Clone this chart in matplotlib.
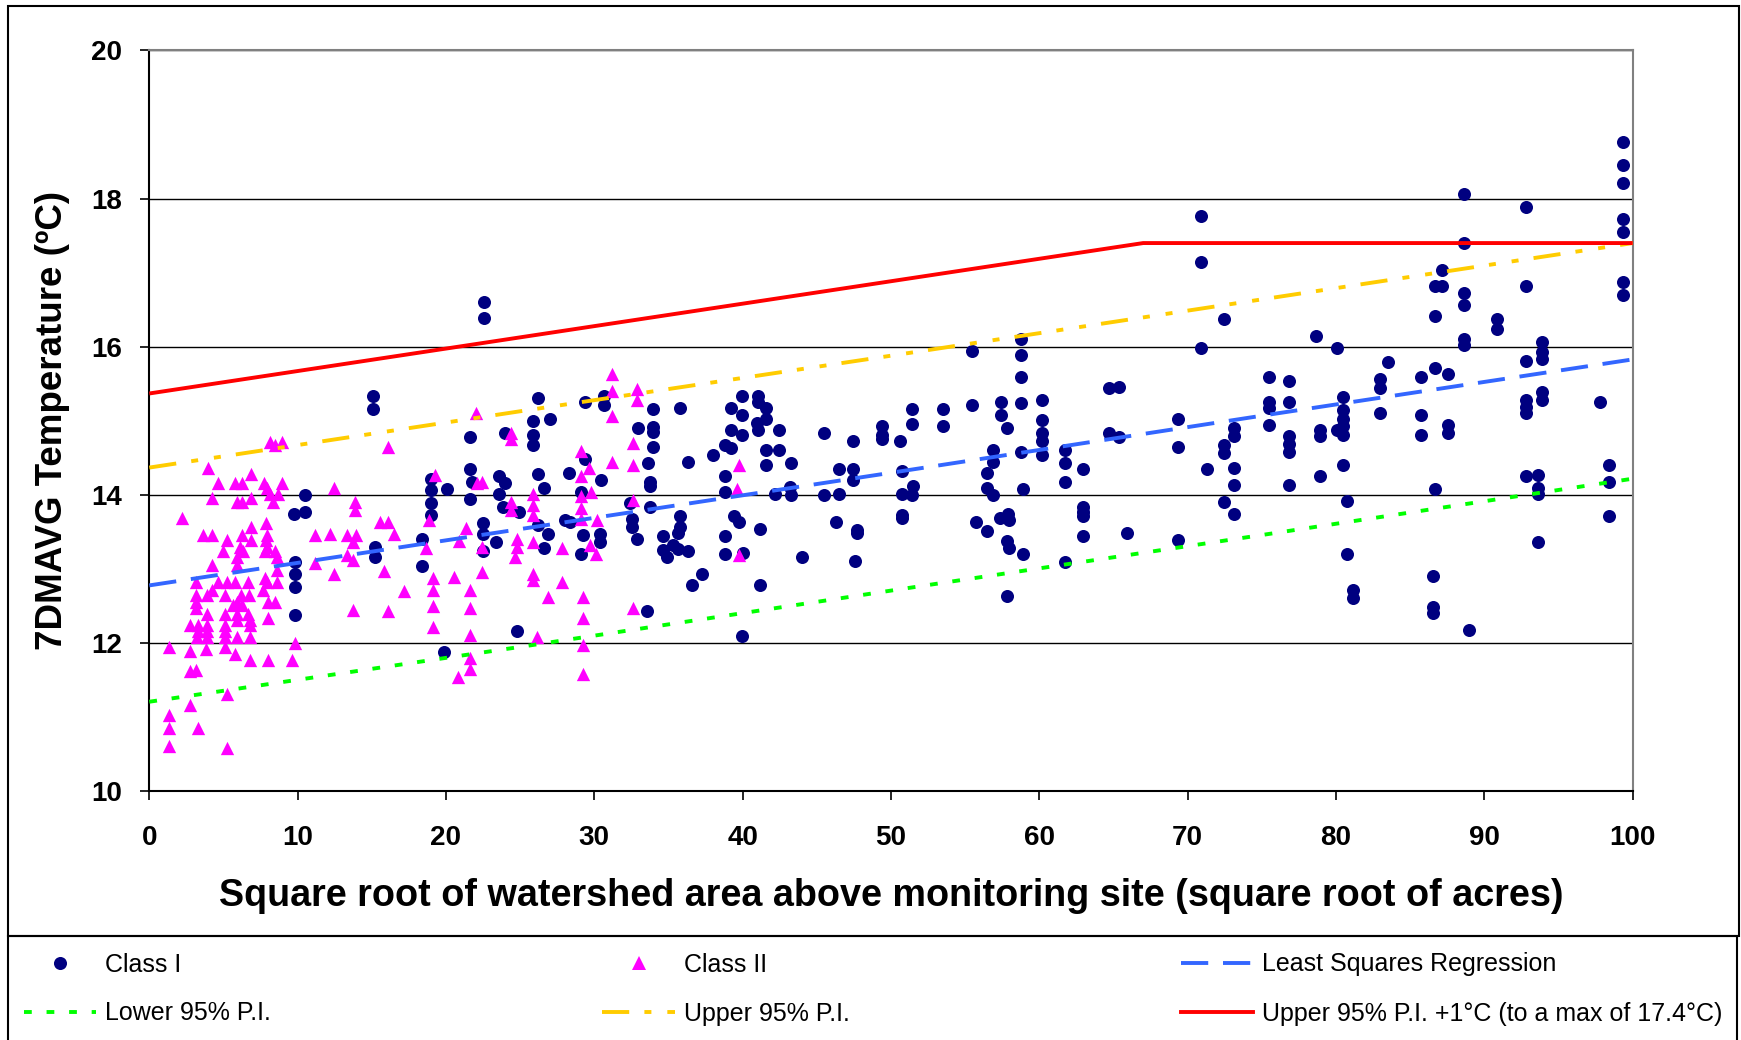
import numpy as np
import matplotlib
matplotlib.use('Agg')
import matplotlib.pyplot as plt
from matplotlib.lines import Line2D
from matplotlib.patches import Rectangle

plt.rcParams['font.family'] = ['Liberation Sans', 'DejaVu Sans']

# Class I sites: (sqrt acres, 7DMAVG degC)
class1 = np.array([
    (22.56, 16.60), (22.56, 16.39), (15.08, 15.34), (15.08, 15.16), (21.62, 14.78),
    (23.98, 14.83), (26.22, 15.31), (25.84, 15.00), (27.01, 15.03), (25.84, 14.81),
    (25.84, 14.67), (29.37, 15.26), (30.65, 15.34), (30.65, 15.21), (32.97, 14.90),
    (10.50, 14.00), (9.78, 13.75), (10.50, 13.77), (9.82, 13.10), (9.82, 12.93),
    (9.82, 12.76), (9.82, 12.38), (15.21, 13.30), (15.21, 13.16), (18.36, 13.40),
    (18.36, 13.04), (18.99, 14.22), (18.99, 14.07), (18.99, 13.89), (18.99, 13.73),
    (20.05, 14.08), (19.89, 11.88), (21.62, 14.35), (21.62, 13.95), (21.73, 14.18),
    (22.52, 13.62), (22.52, 13.48), (22.52, 13.24), (23.37, 13.37), (23.60, 14.26),
    (23.98, 14.16), (23.60, 14.02), (23.87, 13.84), (24.95, 13.77), (24.77, 12.16),
    (26.22, 14.28), (26.61, 14.10), (26.22, 13.60), (26.90, 13.47), (26.63, 13.29),
    (28.32, 14.30), (29.37, 14.48), (30.43, 14.20), (28.02, 13.66), (28.36, 13.64),
    (29.10, 14.04), (29.21, 13.46), (29.10, 13.21), (30.38, 13.48), (30.38, 13.37),
    (32.40, 13.89), (32.52, 13.68), (32.52, 13.57), (32.85, 13.40),
    (33.93, 15.16), (35.78, 15.18), (33.93, 14.92), (33.93, 14.85), (33.93, 14.65),
    (39.19, 15.18), (39.98, 15.33), (41.01, 15.33), (41.01, 15.25), (41.57, 15.18),
    (39.98, 15.08), (41.57, 15.03), (40.95, 14.97), (39.19, 14.88), (41.01, 14.88),
    (39.98, 14.81), (42.47, 14.88), (38.81, 14.67), (39.19, 14.63), (38.02, 14.54),
    (41.57, 14.61), (42.47, 14.61), (45.49, 14.83), (47.46, 14.73), (49.42, 14.93),
    (49.42, 14.81), (49.42, 14.75), (50.61, 14.73), (51.39, 15.16), (51.39, 14.96),
    (53.48, 15.16), (53.48, 14.93), (55.44, 15.94), (55.44, 15.21), (57.42, 15.26),
    (57.42, 15.08), (57.80, 14.90), (56.90, 14.61), (58.74, 16.11), (58.74, 15.89),
    (58.74, 15.59), (58.74, 15.24), (58.74, 14.58), (60.16, 15.28), (60.16, 15.01),
    (60.16, 14.83), (60.16, 14.73), (61.73, 14.61), (64.72, 15.44), (65.40, 15.46),
    (64.72, 14.83), (65.40, 14.78),
    (33.64, 14.43), (33.75, 14.18), (33.75, 14.12), (33.75, 13.84), (36.29, 14.45),
    (38.81, 14.25), (38.81, 14.04), (35.78, 13.72), (35.78, 13.57), (35.66, 13.49),
    (34.61, 13.44), (34.61, 13.26), (34.88, 13.17), (35.33, 13.33), (35.66, 13.27),
    (36.29, 13.24), (37.24, 12.93), (36.56, 12.78), (33.57, 12.43), (39.44, 13.71),
    (39.75, 13.64), (38.81, 13.45), (38.81, 13.21), (40.00, 13.22), (41.17, 13.54),
    (41.17, 12.78), (39.98, 12.10), (41.57, 14.40), (43.26, 14.43), (42.18, 14.02),
    (43.19, 14.11), (43.26, 14.00), (44.02, 13.17), (45.49, 14.00), (46.52, 14.02),
    (46.52, 14.35), (47.46, 14.35), (47.46, 14.20), (46.27, 13.63), (47.69, 13.53),
    (47.69, 13.49), (47.57, 13.11), (50.72, 14.33), (50.72, 14.02), (51.39, 14.00),
    (51.51, 14.12), (50.72, 13.73), (50.72, 13.69), (55.71, 13.64), (56.50, 13.52),
    (56.50, 14.30), (56.50, 14.10), (56.90, 14.00), (56.90, 14.45), (57.35, 13.69),
    (57.91, 13.75), (57.96, 13.66), (57.80, 13.38), (57.96, 13.29), (58.88, 13.21),
    (57.80, 12.64), (58.88, 14.08), (60.16, 14.54), (61.73, 14.43), (61.73, 14.17),
    (61.73, 13.09), (62.92, 14.35), (62.92, 13.84), (62.92, 13.77), (62.92, 13.72),
    (62.92, 13.44), (65.93, 13.49),
    (70.90, 17.76), (70.90, 17.15), (70.90, 15.99), (72.48, 16.37), (69.33, 15.03),
    (69.33, 14.65), (73.15, 14.90), (73.15, 14.79), (72.48, 14.67), (72.48, 14.57),
    (75.51, 15.59), (75.51, 15.26), (75.51, 15.18), (75.51, 14.94), (76.81, 15.54),
    (76.81, 15.26), (76.81, 14.79), (76.81, 14.69), (76.81, 14.58), (78.66, 16.14),
    (78.92, 14.88), (78.92, 14.80), (80.09, 15.99), (80.50, 15.32), (80.50, 15.15),
    (80.50, 15.03), (80.50, 14.93), (80.05, 14.88), (80.50, 14.81), (82.97, 15.56),
    (82.97, 15.44), (82.97, 15.10), (83.49, 15.79), (85.73, 15.59), (85.73, 15.08),
    (85.73, 14.81), (86.68, 15.71), (87.58, 15.63), (87.58, 14.94), (87.58, 14.83),
    (86.68, 16.82), (87.17, 16.82), (87.17, 17.03), (86.68, 16.41), (88.63, 18.06),
    (88.63, 17.40), (88.63, 16.72), (88.63, 16.57), (88.63, 16.10), (88.63, 16.03),
    (90.83, 16.37), (90.83, 16.24), (92.81, 17.88), (92.81, 16.82), (92.81, 15.81),
    (92.81, 15.28), (92.81, 15.19), (92.81, 15.10), (93.87, 16.07), (93.87, 15.93),
    (93.87, 15.83), (93.87, 15.39), (93.87, 15.28), (97.80, 15.26), (99.37, 18.76),
    (99.37, 18.46), (99.37, 18.21), (99.37, 17.73), (99.37, 17.55), (99.37, 16.87),
    (99.37, 16.70),
    (69.33, 13.39), (73.15, 14.37), (73.15, 14.13), (72.48, 13.90), (73.15, 13.74),
    (71.28, 14.35), (76.81, 14.13), (78.92, 14.25), (80.50, 14.40), (80.77, 13.92),
    (80.77, 13.21), (81.13, 12.72), (81.13, 12.61), (86.68, 14.08), (86.52, 12.91),
    (86.52, 12.49), (86.52, 12.41), (88.99, 12.18), (92.81, 14.25), (93.60, 14.27),
    (93.60, 14.10), (93.60, 14.02), (93.60, 13.37), (98.43, 14.40), (98.43, 14.17),
    (98.43, 13.72),
])

# Class II sites
class2 = np.array([
    (3.93, 14.37), (6.83, 14.29), (4.61, 14.16), (5.78, 14.16), (6.23, 14.16),
    (7.73, 14.16), (8.92, 14.16), (7.91, 14.09), (8.14, 14.02), (8.70, 14.02),
    (4.20, 13.96), (6.86, 13.96), (5.89, 13.91), (6.23, 13.91), (8.36, 13.91),
    (2.23, 13.69), (7.87, 13.62), (6.86, 13.57), (3.64, 13.46), (4.20, 13.46),
    (6.23, 13.46), (7.91, 13.46), (5.26, 13.39), (6.86, 13.39), (7.87, 13.39),
    (6.11, 13.30), (7.91, 13.30), (4.99, 13.24), (6.34, 13.24), (7.80, 13.24),
    (8.47, 13.24), (5.89, 13.17), (8.59, 13.17), (4.20, 13.06), (5.89, 13.06),
    (8.59, 12.99), (7.80, 12.88), (3.15, 12.83), (4.65, 12.83), (5.22, 12.83),
    (5.78, 12.83), (6.68, 12.83), (7.91, 12.83), (8.59, 12.83), (4.20, 12.72),
    (7.69, 12.72), (3.15, 12.65), (3.87, 12.65), (5.10, 12.65), (6.18, 12.65),
    (6.74, 12.65), (3.15, 12.56), (5.89, 12.56), (8.02, 12.56), (8.47, 12.56),
    (5.66, 12.52), (6.23, 12.52), (3.15, 12.47), (3.87, 12.40), (5.10, 12.40),
    (5.89, 12.40), (6.68, 12.40), (8.02, 12.34), (5.89, 12.31), (6.79, 12.31),
    (2.74, 12.25), (3.31, 12.25), (3.87, 12.25), (5.10, 12.25), (6.79, 12.25),
    (3.31, 12.16), (3.87, 12.16), (5.10, 12.16), (3.19, 12.09), (3.87, 12.09),
    (5.10, 12.09), (5.89, 12.09), (6.79, 12.09), (9.82, 12.00), (1.33, 11.95),
    (5.10, 11.95), (3.80, 11.92), (2.74, 11.89), (5.78, 11.86), (6.79, 11.77),
    (8.02, 11.77), (9.60, 11.77), (2.74, 11.62), (3.15, 11.64), (2.74, 11.17),
    (1.33, 11.03), (1.33, 10.86), (3.26, 10.86), (5.26, 11.32), (1.33, 10.61),
    (5.26, 10.59),
    (12.45, 14.09), (13.87, 13.91), (13.87, 13.80), (11.17, 13.46), (12.18, 13.48),
    (13.35, 13.46), (13.93, 13.46), (13.76, 13.37), (11.17, 13.08), (12.45, 12.93),
    (13.35, 13.19), (13.76, 13.12), (13.76, 12.45), (15.55, 13.63), (16.11, 13.63),
    (16.50, 13.48), (15.84, 12.98), (16.11, 12.43), (17.17, 12.70), (19.26, 14.27),
    (18.88, 13.66), (18.63, 13.28), (19.15, 12.88), (19.15, 12.72), (19.15, 12.50),
    (19.15, 12.22), (20.56, 12.90), (20.83, 11.55), (21.62, 12.72), (21.62, 12.47),
    (21.62, 12.11), (21.62, 11.80), (21.62, 11.65), (21.35, 13.56), (20.88, 13.38),
    (22.07, 14.16), (22.41, 14.18), (22.41, 13.30), (22.41, 12.96), (24.38, 13.91),
    (24.38, 13.80), (24.77, 13.41), (24.77, 13.30), (24.65, 13.16), (25.84, 14.02),
    (25.84, 13.86), (25.84, 13.73), (25.84, 13.37), (25.84, 12.94), (25.84, 12.85),
    (26.11, 12.09), (26.86, 12.63), (27.80, 13.28), (27.80, 12.83), (29.10, 14.60),
    (29.10, 14.25), (29.10, 13.98), (29.10, 13.82), (29.10, 13.68), (29.66, 14.36),
    (29.78, 14.04), (29.21, 12.63), (29.21, 12.34), (29.21, 11.98), (29.21, 11.59),
    (29.71, 13.32), (30.11, 13.21), (30.16, 13.66), (31.21, 14.45), (32.63, 14.40),
    (32.63, 13.93), (32.63, 12.48),
    (8.13, 14.72), (8.47, 14.67), (8.92, 14.71), (16.11, 14.65), (22.02, 15.10),
    (24.38, 14.83), (24.38, 14.75), (31.21, 15.63), (31.21, 15.40), (31.21, 15.06),
    (32.85, 15.43), (32.85, 15.28), (32.63, 14.70),
    (39.75, 14.40), (39.64, 14.08), (39.75, 13.19),
])

# fitted lines
fit_x = [0, 25, 50, 75, 100]
lsr_y = [12.78, 13.54, 14.30, 15.07, 15.83]
lower_y = [11.21, 11.95, 12.71, 13.46, 14.22]
upper_y = [14.37, 15.13, 15.88, 16.64, 17.40]
red_x = [0, 67, 100]
red_y = [15.37, 17.40, 17.40]

W, H = 1741, 1040
fig = plt.figure(figsize=(W / 100, H / 100), dpi=100)
ax = fig.add_axes([149.3 / W, 1 - 791.4 / H, 1483.4 / W, 741 / H])

ax.scatter(class1[:, 0], class1[:, 1], s=88, marker='o', color='#000080',
           linewidths=0, zorder=3)
ax.scatter(class2[:, 0], class2[:, 1], s=92, marker='^', color='#FF00FF',
           linewidths=0, zorder=4)

lw = 2.8
ax.plot(fit_x, lsr_y, color='#3366FF', lw=lw, dashes=(7, 3.8), zorder=5)
ax.plot(fit_x, lower_y, color='#00FF00', lw=lw, dashes=(2.0, 3.8), zorder=5)
ax.plot(fit_x, upper_y, color='#FFCC00', lw=lw,
        dashes=(7, 3.9, 1.8, 4.1, 1.8, 3.9), zorder=5)
ax.plot(red_x, red_y, color='#FF0000', lw=lw, solid_capstyle='butt', zorder=6)

ax.set_xlim(0, 100)
ax.set_ylim(10, 20)
ax.set_xticks(range(0, 101, 10))
ax.set_yticks(range(10, 21, 2))
ax.yaxis.grid(True, color='black', lw=1.0)
ax.set_axisbelow(True)

for side in ['left', 'bottom']:
    ax.spines[side].set_color('black')
    ax.spines[side].set_linewidth(1.5)
for side in ['top', 'right']:
    ax.spines[side].set_color('#808080')
    ax.spines[side].set_linewidth(1.5)

ax.tick_params(axis='both', direction='out', length=6.5, width=1.2,
               labelsize=20)
ax.tick_params(axis='y', pad=13)
ax.tick_params(axis='x', pad=17.5)
for lab in ax.get_xticklabels() + ax.get_yticklabels():
    lab.set_fontweight('bold')

ax.set_xlabel('Square root of watershed area above monitoring site (square root of acres)',
              fontsize=27.2, fontweight='bold', va='center')
ax.xaxis.set_label_coords(0.5, (791.4 - 896) / 741)
ax.set_ylabel('7DMAVG Temperature (ºC)', fontsize=26.5, fontweight='bold',
              va='center')
ax.yaxis.set_label_coords((53 - 149.3) / 1483.4, 0.5)

# chart frame and legend box
fig.add_artist(Rectangle((8 / W, 1 - 936 / H), 1731 / W, 930 / H,
                         transform=fig.transFigure, fill=False,
                         ec='black', lw=1.5))
fig.add_artist(Rectangle((8 / W, -10 / H), 1729 / W, (114) / H,
                         transform=fig.transFigure, fill=False,
                         ec='black', lw=1.5))

handles = [
    Line2D([], [], ls='none', marker='o', ms=9.4, color='#000080', mew=0),
    Line2D([], [], color='#00FF00', lw=lw, dashes=(2.0, 3.8)),
    Line2D([], [], ls='none', marker='^', ms=9.6, color='#FF00FF', mew=0),
    Line2D([], [], color='#FFCC00', lw=lw, dashes=(7, 3.9, 1.8, 4.1)),
    Line2D([], [], color='#3366FF', lw=lw, dashes=(7, 3.8)),
    Line2D([], [], color='#FF0000', lw=lw),
]
labels = ['Class I', 'Lower 95% P.I.', 'Class II', 'Upper 95% P.I.',
          'Least Squares Regression', 'Upper 95% P.I. +1°C (to a max of 17.4°C)']
fig.legend(handles, labels, loc='upper left', ncol=3,
           bbox_to_anchor=(24 / W, 1 - 952.5 / H), bbox_transform=fig.transFigure,
           frameon=False, fontsize=18, handlelength=2.9, handletextpad=0.35,
           columnspacing=13.25, labelspacing=1.0, borderpad=0, borderaxespad=0)

fig.savefig('out.png', dpi=100)
